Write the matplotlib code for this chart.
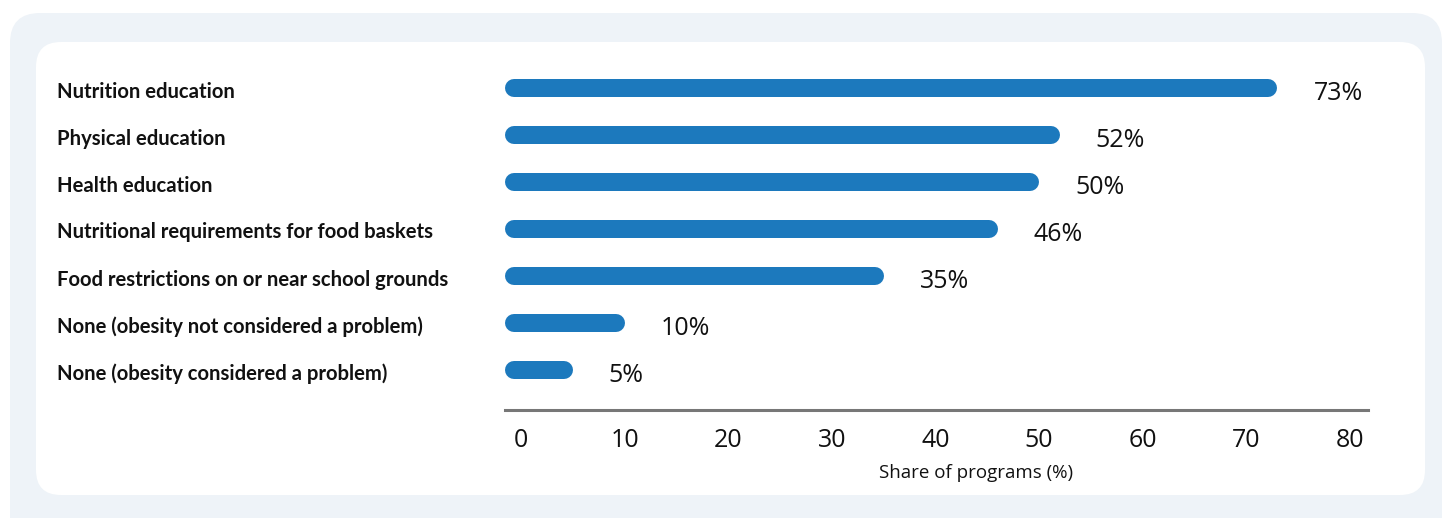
import matplotlib
matplotlib.use("Agg")
import matplotlib.pyplot as plt
from matplotlib.patches import FancyBboxPatch
from matplotlib.transforms import IdentityTransform, blended_transform_factory

# share of programs using each intervention
categories = [
    "Nutrition education",
    "Physical education",
    "Health education",
    "Nutritional requirements for food baskets",
    "Food restrictions on or near school grounds",
    "None (obesity not considered a problem)",
    "None (obesity considered a problem)",
]
shares = [73, 52, 50, 46, 35, 10, 5]
xticks = [0, 10, 20, 30, 40, 50, 60, 70, 80]

W, H, DPI = 1442, 518, 100
bar_color = "#1c79bd"
text_color = "#111111"

fig = plt.figure(figsize=(W / DPI, H / DPI), dpi=DPI)
fig.patch.set_facecolor("white")

# rounded card background
outer = FancyBboxPatch((10, -30), 1432, 518 - 13 + 30,
                       boxstyle="round,pad=0,rounding_size=30",
                       transform=IdentityTransform(), facecolor="#eef3f8",
                       edgecolor="none", zorder=-10)
inner = FancyBboxPatch((36, 518 - 495), 1389, 453,
                       boxstyle="round,pad=0,rounding_size=25",
                       transform=IdentityTransform(), facecolor="white",
                       edgecolor="none", zorder=-9)
fig.add_artist(outer)
fig.add_artist(inner)

ax_left, ax_right = 504.5, 1368
ax_top, ax_bottom = 60, 410
ax = fig.add_axes([ax_left / W, (H - ax_bottom) / H,
                   (ax_right - ax_left) / W, (ax_bottom - ax_top) / H])
ax.set_facecolor("none")

px_per_unit = 10.36
x0 = -(521 - ax_left) / px_per_unit
x1 = 80 + (ax_right - 1350) / px_per_unit
ax.set_xlim(x0, x1)
row = 47.0
ax.set_ylim((ax_bottom - 88) / row, (ax_top - 88) / row)

bar_px = 18
r = bar_px / 2 / px_per_unit
for i, v in enumerate(shares):
    ax.plot([x0 + r, v - r], [i, i], color=bar_color, lw=bar_px * 72 / DPI,
            solid_capstyle="round", zorder=3)
    ax.annotate(f"{v}%", xy=(v, i), xytext=(36, -5.5),
                textcoords="offset pixels", ha="left", va="center",
                fontsize=18, family="Open Sans", color=text_color)

lab_tr = blended_transform_factory(fig.transFigure, ax.transData)
for i, c in enumerate(categories):
    ax.annotate(c, xy=(57 / W, i), xycoords=lab_tr, xytext=(0, -3.5),
                textcoords="offset pixels", ha="left", va="center",
                fontsize=14.6, fontweight="bold", family="Lato",
                color=text_color)

for s in ["top", "right", "left"]:
    ax.spines[s].set_visible(False)
ax.spines["bottom"].set_color("#777777")
ax.spines["bottom"].set_linewidth(2.2)
ax.set_yticks([])
ax.set_xticks(xticks)
ax.set_xticklabels([str(t) for t in xticks], fontsize=18, family="Open Sans",
                   color=text_color)
ax.tick_params(axis="x", length=0, pad=13)
ax.set_xlabel("Share of programs (%)", fontsize=13.5, family="Open Sans",
              color=text_color)
ax.xaxis.set_label_coords((976 - ax_left) / (ax_right - ax_left), -0.155)

fig.savefig("out.png", dpi=DPI)
